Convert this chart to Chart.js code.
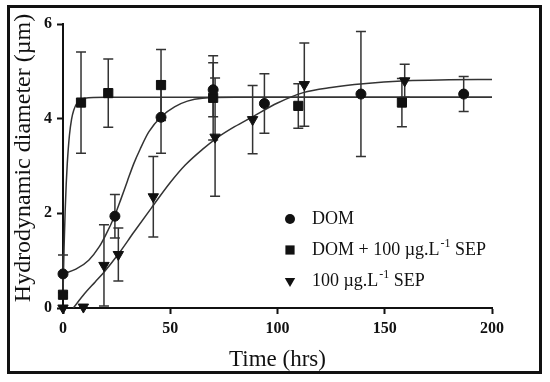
<!DOCTYPE html>
<html>
<head>
<meta charset="utf-8">
<script src="https://cdn.jsdelivr.net/npm/chart.js@4.4.1/dist/chart.umd.min.js"></script>
<style>
    html, body { margin: 0; padding: 0; background: #fff; }
    #wrap { position: relative; width: 550px; height: 382px; }
    #frame {
        position: absolute; left: 7px; top: 5px; width: 535px; height: 369px;
        box-sizing: border-box; border: 3px solid #111; pointer-events: none;
    }
</style>
</head>
<body>
<div id="wrap">
    <canvas id="sizeChart" width="550" height="382"></canvas>
    <div id="frame"></div>
</div>
<script>
// measured points (time in hrs, diameter in um, error = +/-)
const domTime = [0, 24.2, 45.7, 70, 93.9, 138.9, 186.8];
const domSize = [0.72, 1.94, 4.03, 4.61, 4.32, 4.52, 4.52];
const domErr = [0.40, 0.46, 0.76, 0.57, 0.63, 1.32, 0.37];

const mixTime = [0, 8.4, 21.1, 45.7, 70, 109.7, 158];
const mixSize = [0.28, 4.34, 4.54, 4.71, 4.44, 4.27, 4.34];
const mixErr = [0, 1.07, 0.72, 0.75, 0.89, 0.47, 0.51];

const sepTime = [0, 9.5, 19.1, 25.8, 42.1, 70.9, 88.4, 112.5, 159.3];
const sepSize = [0, 0.02, 0.90, 1.13, 2.35, 3.61, 3.98, 4.72, 4.80];
const sepErr = [0, 0, 0.86, 0.56, 0.85, 1.25, 0.72, 0.88, 0.35];

// fitted curves
const domFitTime = [0, 6, 12, 17, 20, 24, 27, 30, 33, 36, 40, 46, 52, 58, 65, 80, 100, 150, 200];
const domFitSize = [0.72, 0.82, 1.01, 1.3, 1.55, 1.94, 2.3, 2.68, 3.05, 3.36, 3.72, 4.05, 4.25, 4.37, 4.43, 4.45, 4.45, 4.45, 4.45];

const mixFitTime = [0, 0.5, 1, 1.5, 2, 3, 4, 5, 7, 10, 20, 100, 200];
const mixFitSize = [0.28, 1.28, 2.04, 2.62, 3.06, 3.65, 3.99, 4.18, 4.36, 4.43, 4.45, 4.45, 4.45];

const sepFitTime = [4.8, 10, 15, 19, 26, 33, 41, 50, 57, 65, 72, 80, 88, 100, 112, 125, 140, 160, 180, 200];
const sepFitSize = [0, 0.3, 0.55, 0.75, 1.15, 1.6, 2.1, 2.65, 3.02, 3.35, 3.6, 3.83, 4.03, 4.33, 4.55, 4.66, 4.74, 4.8, 4.82, 4.83];

const xTicks = [0, 50, 100, 150, 200];
const yTicks = [0, 2, 4, 6];

const yTitle = 'Hydrodynamic diameter (µm)';
const legendItems = [
    { style: 'circle', text: 'DOM', sup: '', after: '' },
    { style: 'rect', text: 'DOM + 100 µg.L', sup: '-1', after: ' SEP' },
    { style: 'triangle', text: '100 µg.L', sup: '-1', after: ' SEP' }
];

const SERIF = '"Liberation Serif", "Times New Roman", serif';
const INK = '#111';

const toPoints = (xs, ys) => xs.map((x, i) => ({ x: x, y: ys[i] }));

const markerSet = (label, xs, ys, errs, style, radius) => ({
    label: label,
    data: toPoints(xs, ys),
    errors: errs,
    pointStyle: style,
    pointRotation: style === 'triangle' ? 180 : 0,
    pointRadius: radius,
    pointBackgroundColor: INK,
    pointBorderColor: INK,
    pointBorderWidth: 1,
    showLine: false,
    clip: false
});

const fitSet = (xs, ys) => ({
    data: toPoints(xs, ys),
    showLine: true,
    borderColor: '#333',
    borderWidth: 1.5,
    pointRadius: 0,
    cubicInterpolationMode: 'monotone',
    fill: false
});

const drawMarker = (ctx, style, x, y) => {
    ctx.beginPath();
    if (style === 'circle') {
        ctx.arc(x, y, 5, 0, Math.PI * 2);
    } else if (style === 'rect') {
        ctx.rect(x - 4.6, y - 4.6, 9.2, 9.2);
    } else {
        ctx.moveTo(x - 5.2, y - 3);
        ctx.lineTo(x + 5.2, y - 3);
        ctx.lineTo(x, y + 6);
        ctx.closePath();
    }
    ctx.fill();
};

// vertical error bars with caps
const errorBars = {
    id: 'errorBars',
    beforeDatasetsDraw(chart) {
        const { ctx, scales: { x, y } } = chart;
        ctx.save();
        ctx.strokeStyle = '#333';
        ctx.lineWidth = 1.5;
        chart.data.datasets.forEach(ds => {
            if (!ds.errors) return;
            ds.data.forEach((p, i) => {
                const e = ds.errors[i];
                if (!e) return;
                const px = x.getPixelForValue(p.x);
                const top = y.getPixelForValue(p.y + e);
                const bot = y.getPixelForValue(Math.max(0, p.y - e));
                ctx.beginPath();
                ctx.moveTo(px, top);
                ctx.lineTo(px, bot);
                ctx.moveTo(px - 5, top);
                ctx.lineTo(px + 5, top);
                ctx.moveTo(px - 5, bot);
                ctx.lineTo(px + 5, bot);
                ctx.stroke();
            });
        });
        ctx.restore();
    }
};

// y title sits a bit above the axis centre in the original
const sideTitle = {
    id: 'sideTitle',
    afterDraw(chart) {
        const { ctx } = chart;
        ctx.save();
        ctx.translate(24, 158);
        ctx.rotate(-Math.PI / 2);
        ctx.fillStyle = INK;
        ctx.font = '24px ' + SERIF;
        ctx.textAlign = 'center';
        ctx.textBaseline = 'middle';
        ctx.fillText(yTitle, 0, 0);
        ctx.restore();
    }
};

// legend placed inside the plot, with superscripts
const innerLegend = {
    id: 'innerLegend',
    afterDraw(chart) {
        const { ctx } = chart;
        const mx = 290, tx = 312, y0 = 219, gap = 31;
        ctx.save();
        ctx.fillStyle = INK;
        ctx.textBaseline = 'middle';
        legendItems.forEach((item, i) => {
            const yy = y0 + i * gap;
            drawMarker(ctx, item.style, mx, yy);
            ctx.font = '18px ' + SERIF;
            ctx.fillText(item.text, tx, yy);
            let cx = tx + ctx.measureText(item.text).width;
            if (item.sup) {
                ctx.font = '12px ' + SERIF;
                ctx.fillText(item.sup, cx + 1, yy - 6);
                cx += ctx.measureText(item.sup).width + 1;
                ctx.font = '18px ' + SERIF;
                ctx.fillText(item.after, cx, yy);
            }
        });
        ctx.restore();
    }
};

const ctx = document.getElementById('sizeChart').getContext('2d');
new Chart(ctx, {
    type: 'scatter',
    data: {
        datasets: [
            markerSet('DOM', domTime, domSize, domErr, 'circle', 5),
            markerSet('DOM + 100 µg.L-1 SEP', mixTime, mixSize, mixErr, 'rect', 6.5),
            markerSet('100 µg.L-1 SEP', sepTime, sepSize, sepErr, 'triangle', 6),
            fitSet(domFitTime, domFitSize),
            fitSet(mixFitTime, mixFitSize),
            fitSet(sepFitTime, sepFitSize)
        ]
    },
    options: {
        responsive: false,
        animation: false,
        layout: { padding: { top: 24, right: 58, left: 0, bottom: 0 } },
        plugins: {
            legend: { display: false },
            tooltip: { enabled: false }
        },
        scales: {
            x: {
                type: 'linear',
                min: 0,
                max: 200,
                afterFit: s => { s.height = 74; },
                afterBuildTicks: s => { s.ticks = xTicks.map(v => ({ value: v })); },
                grid: { drawOnChartArea: false, tickLength: 6, tickWidth: 2, tickColor: INK },
                border: { color: INK, width: 2 },
                ticks: { color: INK, padding: 5, font: { family: SERIF, size: 16, weight: 'bold' } },
                title: {
                    display: true,
                    text: 'Time (hrs)',
                    color: INK,
                    padding: { top: 0, bottom: 8 },
                    font: { family: SERIF, size: 23 }
                }
            },
            y: {
                type: 'linear',
                min: 0,
                max: 6,
                afterFit: s => { s.width = 63; },
                afterBuildTicks: s => { s.ticks = yTicks.map(v => ({ value: v })); },
                grid: { drawOnChartArea: false, tickLength: 6, tickWidth: 2, tickColor: INK },
                border: { color: INK, width: 2 },
                ticks: { color: INK, padding: 5, font: { family: SERIF, size: 16, weight: 'bold' } },
                title: { display: false }
            }
        }
    },
    plugins: [errorBars, sideTitle, innerLegend]
});
</script>
</body>
</html>
